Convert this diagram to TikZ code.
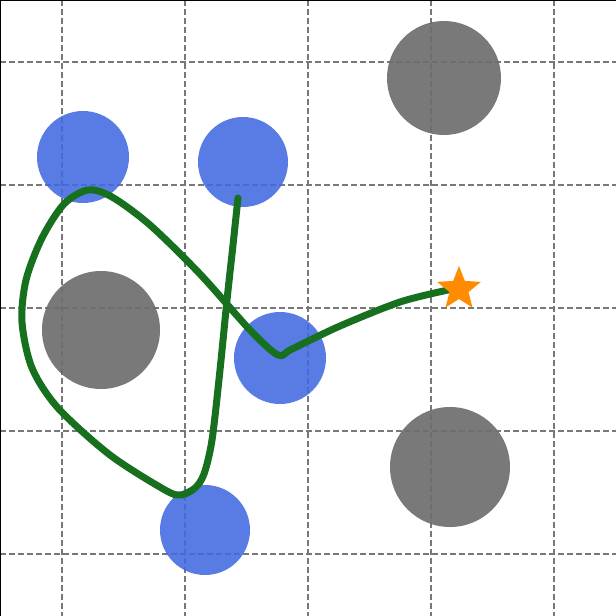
\documentclass[tikz,border=0pt]{standalone}
\usetikzlibrary{shapes.geometric}
\definecolor{blueobs}{RGB}{65,105,225}
\definecolor{grayobs}{RGB}{110,110,110}
\definecolor{pathgreen}{RGB}{22,112,30}
\definecolor{staror}{RGB}{255,140,0}
\definecolor{gridgray}{RGB}{120,120,120}
\begin{document}
\begin{tikzpicture}[x=1pt,y=-1pt,
  gridline/.style={draw=gridgray,line width=1.3pt,dash pattern=on 6pt off 3pt},
  blueball/.style={fill=blueobs,fill opacity=0.88},
  grayball/.style={fill=grayobs,fill opacity=0.92},
  route/.style={draw=pathgreen,line width=7pt,line cap=round,line join=round}]
\useasboundingbox (0,0) rectangle (616,616);
\fill[white] (0,0) rectangle (616,616);
\foreach \v in {62,185,308,431,554}{
  \draw[gridline] (\v,0) -- (\v,616);
  \draw[gridline] (0,\v) -- (616,\v);
}
\draw[black,line width=1.5pt] (0,616) -- (0,0) -- (616,0);
\fill[blueball] (83,157) circle (46);
\fill[blueball] (243,162) circle (45);
\fill[blueball] (280,358) circle (46);
\fill[blueball] (205,530) circle (45);
\fill[grayball] (444,78) circle (57);
\fill[grayball] (101,330) circle (59);
\fill[grayball] (450,467) circle (60);
\draw[route] plot[smooth,tension=0.5] coordinates {(238,198) (233,245) (227,300) (220,370) (212,440) (204,474) (195,488) (181,495) (165,490) (110,455) (58,408) (32,368) (22,322) (26,280) (42,238) (64,204) (88,190) (112,197) (150,225) (200,274) (250,330) (278,355) (292,349) (340,326) (400,302) (448,290)};
\node[star,star points=5,star point ratio=2.3,fill=staror,minimum size=46pt,inner sep=0pt] (goal) at (459,289) {};
\end{tikzpicture}
\end{document}
